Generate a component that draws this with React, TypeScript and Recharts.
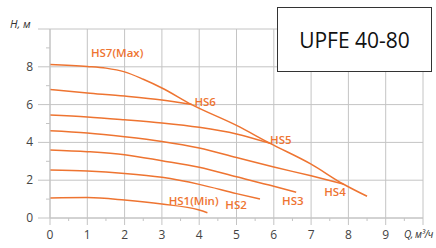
import { LineChart, Line, XAxis, YAxis, CartesianGrid, ReferenceDot } from 'recharts';

const ORANGE = '#ee7431';
const GRID = '#c4c4c4';
const FONT = '"Open Sans", sans-serif';

// flow Q (m3/h) and head H (m)
const hs7Q = [0, 1, 1.5, 2, 2.5, 3, 3.8, 5, 5.9, 7, 7.86, 8.5];
const hs7H = [8.12, 8.02, 7.93, 7.73, 7.34, 6.88, 6.0, 4.9, 3.95, 2.85, 1.8, 1.15];
const hs6Q = [0, 1, 2, 3, 3.8];
const hs6H = [6.8, 6.62, 6.45, 6.24, 6.0];
const hs5Q = [0, 1, 2, 3, 4, 5, 5.9];
const hs5H = [5.45, 5.35, 5.2, 5.03, 4.8, 4.45, 3.95];
const hs4Q = [0, 1, 2, 3, 4, 5, 6, 7, 7.86];
const hs4H = [4.62, 4.5, 4.3, 4.05, 3.7, 3.2, 2.7, 2.23, 1.8];
const hs3Q = [0, 1, 2, 3, 4, 5, 6, 6.6];
const hs3H = [3.6, 3.51, 3.35, 3.03, 2.68, 2.18, 1.68, 1.36];
const hs2Q = [0, 1, 2, 3, 4, 5, 5.63];
const hs2H = [2.54, 2.49, 2.36, 2.15, 1.78, 1.29, 1.0];
const hs1Q = [0, 1, 2, 3, 4, 4.22];
const hs1H = [1.06, 1.08, 0.95, 0.74, 0.42, 0.28];

const seriesNames = ['HS7(Max)', 'HS6', 'HS5', 'HS4', 'HS3', 'HS2', 'HS1(Min)'];
// label anchors (Q, H)
const labelQ = [1.8, 4.16, 6.19, 7.64, 6.51, 4.99, 3.85];
const labelH = [8.73, 6.14, 4.13, 1.38, 0.9, 0.69, 0.9];

const xTicks = [0, 0.5, 1, 1.5, 2, 2.5, 3, 3.5, 4, 4.5, 5, 5.5, 6, 6.5, 7, 7.5, 8, 8.5, 9, 9.5, 10];
const yTicks = [0, 1, 2, 3, 4, 5, 6, 7, 8, 9, 10];
const gridX = [0, 1, 2, 3, 4, 5, 6, 7, 8, 9, 10];
const gridY = [0, 2, 4, 6, 8, 10];

const zip = (qs: number[], hs: number[]) => qs.map((q, i) => ({ q, h: hs[i] }));
const series = [
  zip(hs7Q, hs7H),
  zip(hs6Q, hs6H),
  zip(hs5Q, hs5H),
  zip(hs4Q, hs4H),
  zip(hs3Q, hs3H),
  zip(hs2Q, hs2H),
  zip(hs1Q, hs1H),
];

function YTick(props: any) {
  const { x, y, payload } = props;
  const v = payload.value;
  const major = v % 2 === 0;
  return (
    <g>
      <line x1={x - (major ? 12 : 4)} x2={x} y1={y} y2={y} stroke={GRID} strokeWidth={1} />
      {major && v !== 10 && (
        <text x={x - 17} y={y + 4} textAnchor="end" fontSize={12} fill="#444" fontFamily={FONT}>
          {v}
        </text>
      )}
    </g>
  );
}

function XTick(props: any) {
  const { x, y, payload } = props;
  const v = payload.value;
  const major = Number.isInteger(v);
  return (
    <g>
      <line x1={x} x2={x} y1={y} y2={y + (major ? 7 : 3)} stroke={GRID} strokeWidth={1} />
      {major && v !== 10 && (
        <text x={x} y={y + 21} textAnchor="middle" fontSize={12} fill="#444" fontFamily={FONT}>
          {v}
        </text>
      )}
    </g>
  );
}

export default function App() {
  return (
    <div style={{ position: 'absolute', left: 0, top: 0, width: 436, height: 248, background: '#fff', overflow: 'hidden' }}>
      <LineChart width={436} height={248} margin={{ top: 29, right: 13, left: 0, bottom: 0 }}>
        <CartesianGrid stroke={GRID} horizontalValues={gridY} verticalValues={gridX} />
        <XAxis
          dataKey="q"
          type="number"
          domain={[0, 10]}
          ticks={xTicks}
          interval={0}
          height={30}
          tickSize={0}
          tickMargin={0}
          axisLine={{ stroke: GRID }}
          tick={<XTick />}
        />
        <YAxis
          dataKey="h"
          type="number"
          domain={[0, 10]}
          ticks={yTicks}
          interval={0}
          width={50}
          tickSize={0}
          tickMargin={0}
          axisLine={{ stroke: GRID }}
          tick={<YTick />}
        />
        {series.map((d, i) => (
          <Line
            key={seriesNames[i]}
            data={d}
            dataKey="h"
            type="monotone"
            stroke={ORANGE}
            strokeWidth={1.5}
            dot={false}
            activeDot={false}
            isAnimationActive={false}
          />
        ))}
        {seriesNames.map((name, i) => (
          <ReferenceDot
            key={name}
            x={labelQ[i]}
            y={labelH[i]}
            r={0}
            fill="none"
            stroke="none"
            label={{ value: name, position: 'center', fill: ORANGE, fontSize: 11.5, fontFamily: FONT, fontWeight: 600 }}
          />
        ))}
      </LineChart>
      <div style={{ position: 'absolute', left: 10, top: 16, fontFamily: FONT, fontStyle: 'italic', fontSize: 11, color: '#333' }}>
        H, м
      </div>
      <div style={{ position: 'absolute', left: 404, top: 227, fontFamily: FONT, fontStyle: 'italic', fontSize: 10, letterSpacing: -0.4, color: '#333', whiteSpace: 'nowrap' }}>
        Q, м³/ч
      </div>
      <div
        style={{
          position: 'absolute',
          left: 277,
          top: 7,
          width: 153,
          height: 63,
          border: '1.5px solid #333',
          background: '#fff',
          display: 'flex',
          alignItems: 'center',
          justifyContent: 'center',
          fontFamily: FONT,
          fontSize: 21,
          color: '#111',
        }}
      >
        UPFE 40-80
      </div>
    </div>
  );
}
